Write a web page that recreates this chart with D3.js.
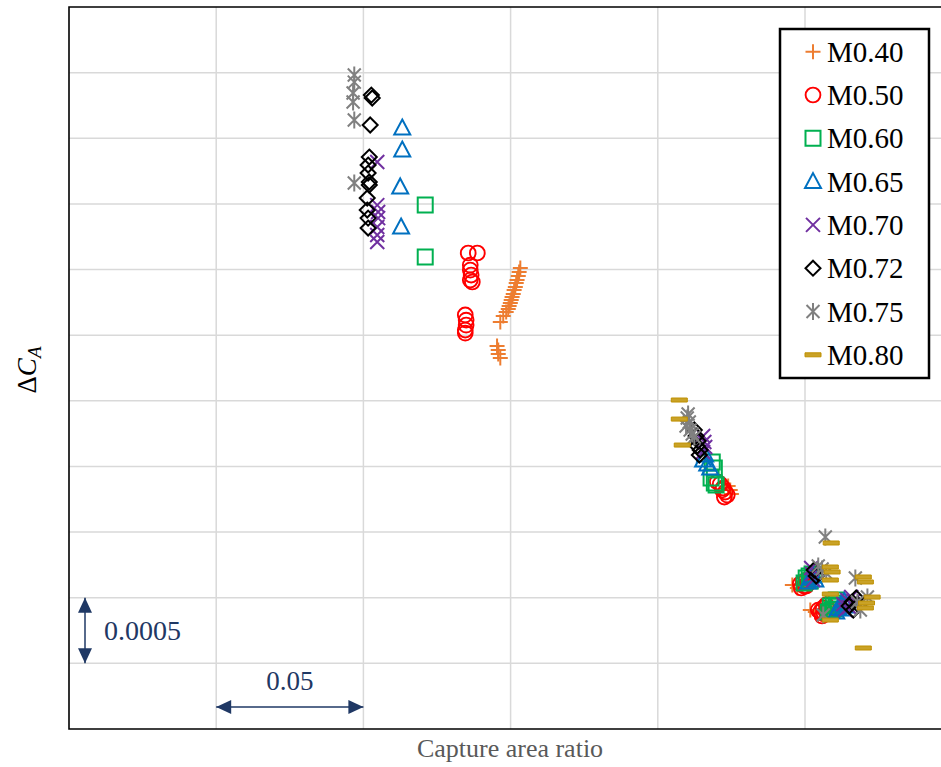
<!DOCTYPE html>
<html>
<head>
<meta charset="utf-8">
<script src="https://cdn.jsdelivr.net/npm/d3@7"></script>
<style>
  body { margin: 0; background: #fff; }
  svg { display: block; }
</style>
</head>
<body>
<div class="svg"></div>
<script>
// series names (legend order = draw order)
var seriesNames = ['M0.40', 'M0.50', 'M0.60', 'M0.65', 'M0.70', 'M0.72', 'M0.75', 'M0.80'];

// [capture area ratio, delta C_A]
var m040 = [[0.7533, 0.003512], [0.7529, 0.003481], [0.7526, 0.003451], [0.7522, 0.003420], [0.7519, 0.003397],
    [0.7516, 0.003367], [0.7512, 0.003344], [0.7509, 0.003314], [0.7505, 0.003291], [0.7502, 0.003268],
    [0.7499, 0.003245], [0.7495, 0.003222], [0.7492, 0.003199], [0.7485, 0.003176], [0.7475, 0.003146],
    [0.7465, 0.003100], [0.7454, 0.002917], [0.7458, 0.002887], [0.7458, 0.002856], [0.7465, 0.002826],
    [0.8239, 0.001851], [0.8246, 0.001821], [0.8250, 0.001790],
    [0.8457, 0.001097], [0.8474, 0.001074], [0.8518, 0.000906], [0.8535, 0.000891]];
var m050 = [[0.7356, 0.003626], [0.7387, 0.003626], [0.7363, 0.003534], [0.7363, 0.003496], [0.7366, 0.003458],
    [0.7363, 0.003420], [0.7370, 0.003405], [0.7346, 0.003154], [0.7349, 0.003115], [0.7349, 0.003077],
    [0.7346, 0.003039], [0.7346, 0.003016],
    [0.8202, 0.001882], [0.8212, 0.001866], [0.8219, 0.001821], [0.8222, 0.001836], [0.8229, 0.001805],
    [0.8236, 0.001782], [0.8226, 0.001767],
    [0.8484, 0.001105], [0.8494, 0.001120], [0.8504, 0.001135], [0.8497, 0.001089], [0.8511, 0.001112],
    [0.8487, 0.001074], [0.8504, 0.001089],
    [0.8552, 0.000891], [0.8562, 0.000922], [0.8572, 0.000945], [0.8565, 0.000876], [0.8579, 0.000906],
    [0.8545, 0.000906], [0.8558, 0.000861], [0.8572, 0.000891]];
var m060 = [[0.7210, 0.003991], [0.7210, 0.003595],
    [0.8185, 0.002034], [0.8192, 0.001988], [0.8181, 0.001912], [0.8192, 0.001874], [0.8198, 0.001859],
    [0.8504, 0.001150], [0.8514, 0.001165], [0.8524, 0.001181], [0.8518, 0.001127], [0.8497, 0.001112],
    [0.8586, 0.000937], [0.8596, 0.000960], [0.8606, 0.000983], [0.8599, 0.000914], [0.8613, 0.000937],
    [0.8579, 0.000891], [0.8592, 0.000906], [0.8606, 0.000945]];
var m065 = [[0.7132, 0.004578], [0.7132, 0.004410], [0.7125, 0.004129], [0.7128, 0.003824],
    [0.8161, 0.002087], [0.8154, 0.002049], [0.8168, 0.002019], [0.8178, 0.001988],
    [0.8518, 0.001150], [0.8528, 0.001165], [0.8535, 0.001135], [0.8511, 0.001120],
    [0.8613, 0.000922], [0.8623, 0.000952], [0.8633, 0.000975], [0.8640, 0.000937],
    [0.8606, 0.000891], [0.8626, 0.000914]];
var m070 = [[0.7047, 0.004319], [0.7047, 0.003991], [0.7050, 0.003938], [0.7050, 0.003892], [0.7047, 0.003824],
    [0.7047, 0.003763], [0.7047, 0.003710],
    [0.8154, 0.002232], [0.8158, 0.002186], [0.8161, 0.002148], [0.8154, 0.002110],
    [0.8521, 0.001226], [0.8524, 0.001181], [0.8528, 0.001135],
    [0.8630, 0.000952], [0.8644, 0.000983], [0.8657, 0.001005], [0.8650, 0.000929],
    [0.8637, 0.000906], [0.8664, 0.000975]];
var m072 = [[0.7027, 0.004829], [0.7030, 0.004807], [0.7023, 0.004601], [0.7020, 0.004357], [0.7016, 0.004296],
    [0.7016, 0.004235], [0.7020, 0.004167], [0.7020, 0.004144], [0.7013, 0.004045], [0.7013, 0.003953],
    [0.7016, 0.003892], [0.7016, 0.003816],
    [0.8124, 0.002278], [0.8130, 0.002232], [0.8137, 0.002194], [0.8134, 0.002156], [0.8144, 0.002125], [0.8141, 0.002087],
    [0.8531, 0.001211], [0.8538, 0.001165], [0.8545, 0.001188],
    [0.8650, 0.000937], [0.8660, 0.000967], [0.8674, 0.000998], [0.8664, 0.000906], [0.8681, 0.000945]];
var m075 = [[0.6969, 0.004982], [0.6969, 0.004928], [0.6965, 0.004845], [0.6965, 0.004776], [0.6969, 0.004639],
    [0.6969, 0.004159],
    [0.8103, 0.002399], [0.8100, 0.002369], [0.8107, 0.002339], [0.8096, 0.002308], [0.8110, 0.002278],
    [0.8117, 0.002247], [0.8124, 0.002224],
    [0.8569, 0.001463], [0.8545, 0.001242], [0.8558, 0.001219], [0.8572, 0.001188], [0.8671, 0.001150],
    [0.8712, 0.001005], [0.8688, 0.000906], [0.8562, 0.000868], [0.8678, 0.000967]];
var m080 = [[0.8073, 0.002506], [0.8073, 0.002361], [0.8083, 0.002163],
    [0.8589, 0.001417], [0.8586, 0.001234], [0.8592, 0.001196], [0.8586, 0.001135], [0.8698, 0.001158],
    [0.8705, 0.001120], [0.8728, 0.001005], [0.8705, 0.000922], [0.8586, 0.001028], [0.8586, 0.000830],
    [0.8698, 0.000617], [0.8709, 0.000960]];

var seriesData = [m040, m050, m060, m065, m070, m072, m075, m080];
var colors = ['#ED7D31', '#FF0000', '#00B050', '#0070C0', '#7030A0', '#000000', '#808080', '#BF9000'];
var shapes = ['plus', 'circle', 'square', 'triangle', 'cross', 'diamond', 'star', 'dash'];

// gridlines every 0.05 / 0.0005 (no tick labels on this chart)
var xGrid = [0.65, 0.70, 0.75, 0.80, 0.85];
var yGrid = [0.0005, 0.0010, 0.0015, 0.0020, 0.0025, 0.0030, 0.0035, 0.0040, 0.0045, 0.0050];

var width = 941, height = 767;
var plotLeft = 69, plotTop = 7, plotBottom = 729;

var x = d3.scaleLinear().domain([0.60, 0.60 + (width - plotLeft) / 2944]).range([plotLeft, width]);
var y = d3.scaleLinear().domain([0, 0.0055]).range([plotBottom, plotTop]);

var svg = d3.select('div.svg')
    .append('svg')
    .attr('width', width)
    .attr('height', height)
    .style('font-family', '"Liberation Serif", "Times New Roman", serif');

svg.append('defs').append('clipPath').attr('id', 'plot')
    .append('rect').attr('x', plotLeft).attr('y', plotTop)
    .attr('width', width - plotLeft).attr('height', plotBottom - plotTop);

// grid
var grid = svg.append('g').attr('stroke', '#d9d9d9').attr('stroke-width', 1.5);
grid.selectAll('.vg').data(xGrid).enter().append('line')
    .attr('class', 'vg')
    .attr('x1', d => x(d)).attr('x2', d => x(d))
    .attr('y1', plotTop).attr('y2', plotBottom);
grid.selectAll('.hg').data(yGrid).enter().append('line')
    .attr('class', 'hg')
    .attr('x1', plotLeft).attr('x2', width)
    .attr('y1', d => y(d)).attr('y2', d => y(d));

// frame (no right edge, it runs off the picture)
svg.append('path')
    .attr('d', 'M' + width + ',' + plotTop + 'H' + plotLeft + 'V' + plotBottom + 'H' + width)
    .attr('fill', 'none')
    .attr('stroke', '#000')
    .attr('stroke-width', 1.6);

function markerPath(shape) {
    switch (shape) {
        case 'plus': return 'M-7.5,0H7.5M0,-7.5V7.5';
        case 'square': return 'M-7.5,-7.5H7.5V7.5H-7.5Z';
        case 'triangle': return 'M0,-8.5L8,6.5H-8Z';
        case 'cross': return 'M-7,-7L7,7M-7,7L7,-7';
        case 'diamond': return 'M0,-7.5L7.5,0L0,7.5L-7.5,0Z';
        case 'star': return 'M-6.5,-6.5L6.5,6.5M-6.5,6.5L6.5,-6.5M0,-8.5V8.5';
        case 'dash': return 'M-8,-2H8V2H-8Z';
    }
}

function drawMarker(g, shape, color) {
    if (shape == 'circle') {
        g.append('circle').attr('r', 7.4)
            .attr('fill', 'none').attr('stroke', color).attr('stroke-width', 1.9);
    } else if (shape == 'dash') {
        g.append('path').attr('d', markerPath(shape))
            .attr('fill', '#C9A227').attr('stroke', color).attr('stroke-width', 1);
    } else {
        g.append('path').attr('d', markerPath(shape))
            .attr('fill', 'none').attr('stroke', color).attr('stroke-width', 2);
    }
}

var plot = svg.append('g').attr('clip-path', 'url(#plot)');
seriesData.forEach(function (data, k) {
    plot.append('g')
        .selectAll('g')
        .data(data)
        .enter()
        .append('g')
        .attr('transform', d => 'translate(' + x(d[0]) + ',' + y(d[1]) + ')')
        .each(function () { drawMarker(d3.select(this), shapes[k], colors[k]); });
});

// legend
var legend = svg.append('g');
legend.append('rect')
    .attr('x', 780).attr('y', 29).attr('width', 149).attr('height', 349)
    .attr('fill', '#fff').attr('stroke', '#000').attr('stroke-width', 2.5);
seriesNames.forEach(function (name, k) {
    var ry = 51.7 + k * 43.3;
    drawMarker(legend.append('g').attr('transform', 'translate(813,' + ry + ')'), shapes[k], colors[k]);
    legend.append('text')
        .attr('x', 827).attr('y', ry + 10)
        .attr('font-size', 29)
        .attr('fill', '#000')
        .text(name);
});

// scale bars
var navy = '#1F3864';
function arrow(x1, y1, x2, y2) {
    var g = svg.append('g');
    var a = Math.atan2(y2 - y1, x2 - x1) * 180 / Math.PI;
    g.append('line').attr('x1', x1).attr('y1', y1).attr('x2', x2).attr('y2', y2)
        .attr('stroke', navy).attr('stroke-width', 1.5);
    g.append('path').attr('d', 'M0,0L-15,-7L-15,7Z').attr('fill', navy)
        .attr('transform', 'translate(' + x2 + ',' + y2 + ') rotate(' + a + ')');
    g.append('path').attr('d', 'M0,0L-15,-7L-15,7Z').attr('fill', navy)
        .attr('transform', 'translate(' + x1 + ',' + y1 + ') rotate(' + (a + 180) + ')');
}
arrow(x(0.65), 707, x(0.70), 707);
svg.append('text')
    .attr('x', (x(0.65) + x(0.70)) / 2).attr('y', 690)
    .attr('text-anchor', 'middle').attr('font-size', 27).attr('fill', navy)
    .text('0.05');
arrow(85, y(0.0010), 85, y(0.0005));
svg.append('text')
    .attr('x', 104).attr('y', 640)
    .attr('font-size', 28).attr('fill', navy)
    .text('0.0005');

// axis titles
svg.append('text')
    .attr('x', 510).attr('y', 757)
    .attr('text-anchor', 'middle').attr('font-size', 26).attr('fill', '#595959')
    .text('Capture area ratio');

var yl = svg.append('text')
    .attr('transform', 'translate(36,370) rotate(-90)')
    .attr('text-anchor', 'middle').attr('font-size', 27).attr('fill', '#000');
yl.append('tspan').text('Δ');
yl.append('tspan').attr('font-style', 'italic').text('C');
yl.append('tspan').attr('font-style', 'italic').attr('font-size', 19).attr('dy', 5).text('A');
</script>
</body>
</html>
